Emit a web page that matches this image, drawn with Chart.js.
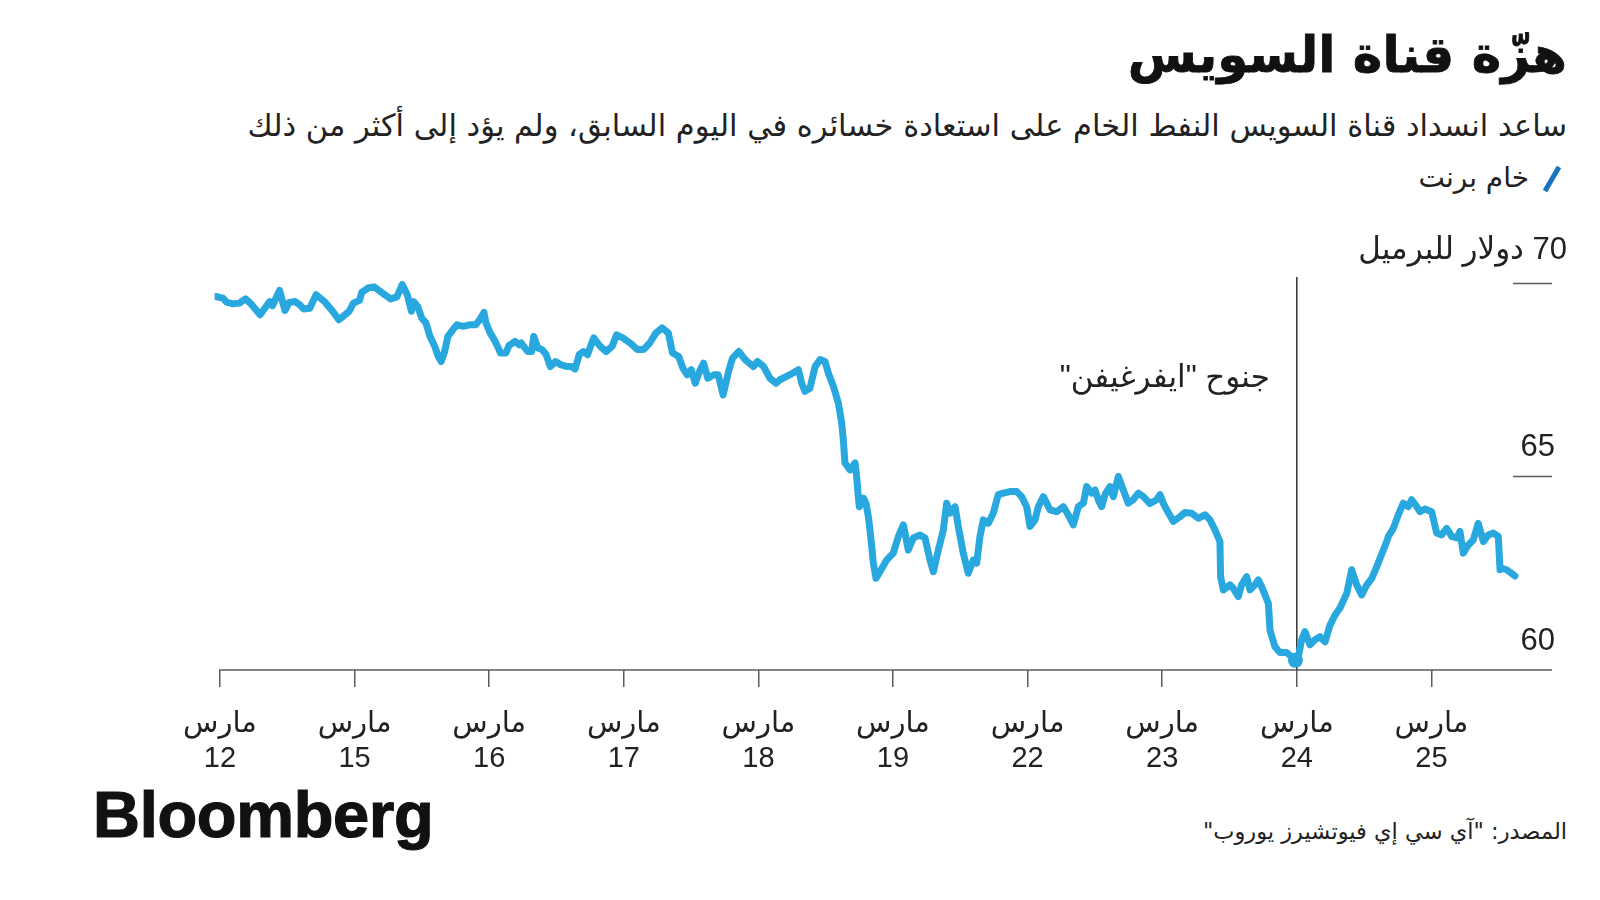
<!DOCTYPE html>
<html lang="ar">
<head>
<meta charset="utf-8">
<script src="https://cdn.jsdelivr.net/npm/chart.js@4.4.1/dist/chart.umd.min.js"></script>
<style>
  html, body { margin:0; padding:0; background:#fff; }
  body { width:1600px; height:900px; position:relative; overflow:hidden; font-family:'DejaVu Sans', sans-serif; color:#1a1a1a; }
  .t { position:absolute; white-space:nowrap; direction:rtl; }
  #title { right:33px; top:23px; font-size:50px; font-weight:bold; line-height:64px; color:#111; -webkit-text-stroke:0.8px #111; }
  #subtitle { right:33px; top:104px; font-size:30.5px; line-height:44px; color:#222; }
  #legend { right:71px; top:157px; font-size:28px; line-height:42px; color:#222; }
  #source { right:33px; top:814px; font-size:22.5px; line-height:34px; color:#222; }
  #logo { position:absolute; left:93px; top:783px; font-family:'Liberation Sans', Arial, sans-serif; font-weight:bold; font-size:65px; line-height:64px; letter-spacing:-0.3px; color:#111; -webkit-text-stroke:1.2px #111; }
  #legendIcon { position:absolute; left:1540px; top:164px; }
  #c { position:absolute; left:0; top:0; }
</style>
</head>
<body>
<div id="title" class="t">هزّة قناة السويس</div>
<div id="subtitle" class="t">ساعد انسداد قناة السويس النفط الخام على استعادة خسائره في اليوم السابق، ولم يؤد إلى أكثر من ذلك</div>
<svg id="legendIcon" width="24" height="30"><line x1="5" y1="27" x2="19" y2="3" stroke="#1a73bd" stroke-width="5"/></svg>
<div id="legend" class="t">خام برنت</div>
<div id="source" class="t">المصدر: "آي سي إي فيوتشيرز يوروب"</div>
<div id="logo">Bloomberg</div>
<canvas id="c" width="1600" height="900"></canvas>
<script>
// ---- data ----
const monthLabel = 'مارس';
const dayLabels = ['12','15','16','17','18','19','22','23','24','25'];
const tickDays = [0,1,2,3,4,5,6,7,8,9];
const yTickValues = [60,65,70];
const yUnit = 'دولار للبرميل';
const seriesName = 'خام برنت';
const eventDay = 8;
const eventLabel = 'جنوح "ايفرغيفن"';
const eventPoint = [{x:7.99, y:60.25}];

const tradingDay = [
-0.032,0.021,0.051,0.098,0.144,0.190,0.236,0.298,0.344,0.369,0.390,0.421,0.443,0.461,0.483,0.514,0.559,0.591,0.621,0.667,
0.714,0.776,0.837,0.883,0.929,0.960,0.991,1.037,1.053,1.099,1.145,1.207,1.268,1.314,1.354,1.391,1.422,1.438,1.468,1.499,
1.530,1.560,1.591,1.622,1.643,1.669,1.693,1.730,1.761,1.807,1.853,1.899,1.930,1.961,1.976,2.007,2.038,2.068,2.084,2.124,
2.146,2.192,2.223,2.238,2.285,2.315,2.331,2.361,2.392,2.423,2.454,2.493,2.531,2.577,2.608,2.638,2.669,2.700,2.731,2.762,
2.777,2.823,2.869,2.915,2.946,2.993,3.054,3.100,3.146,3.193,3.239,3.285,3.331,3.362,3.408,3.439,3.470,3.501,3.531,3.562,
3.593,3.624,3.670,3.701,3.738,3.778,3.808,3.855,3.901,3.963,3.993,4.039,4.086,4.132,
4.160,4.235,4.297,4.322,4.346,4.383,4.421,4.458,4.495,4.520,4.557,4.594,4.619,4.631,4.643,4.681,4.718,4.730,4.742,4.750,
4.780,4.799,4.817,4.829,4.842,4.854,4.874,4.903,4.953,5.002,5.040,5.077,5.114,5.151,5.201,5.238,5.275,5.300,5.337,5.374,
5.399,5.423,5.461,5.485,5.522,5.559,5.597,5.622,5.646,5.671,5.708,5.745,5.782,5.819,5.869,5.919,5.956,5.993,6.018,6.055,
6.080,6.117,6.142,6.166,6.216,6.265,6.302,6.340,6.377,6.414,6.439,6.476,6.501,6.525,6.550,6.575,6.612,6.637,6.674,6.711,
6.748,6.785,6.823,6.860,6.909,
6.959,6.984,7.008,7.033,7.083,7.132,7.169,7.219,7.268,7.318,7.355,7.392,7.429,7.434,7.454,7.504,7.528,7.565,7.590,7.628,
7.652,7.689,7.714,7.739,7.764,7.789,7.801,7.838,7.875,7.925,7.962,7.987,8.011,8.036,8.061,8.098,8.135,8.172,8.210,8.247,
8.284,8.321,8.371,8.408,8.445,8.482,8.520,8.557,8.594,8.643,8.668,8.680,8.717,8.754,8.791,8.828,8.853,8.891,8.915,8.952,
9.002,9.039,9.076,9.113,9.151,9.188,9.212,9.237,9.274,9.311,9.348,9.386,9.423,9.460,9.497,9.510,9.522,9.559,9.621
];
const brentPrice = [
69.65,69.61,69.50,69.46,69.48,69.59,69.44,69.18,69.40,69.52,69.41,69.65,69.81,69.57,69.29,69.50,69.52,69.44,69.33,69.35,
69.70,69.52,69.27,69.05,69.18,69.27,69.48,69.55,69.76,69.87,69.90,69.74,69.59,69.64,69.96,69.70,69.27,69.52,69.40,69.09,
68.97,68.62,68.40,68.10,67.97,68.23,68.62,68.79,68.92,68.88,68.92,68.92,69.05,69.24,68.97,68.71,68.53,68.32,68.19,68.19,
68.38,68.49,68.40,68.45,68.23,68.23,68.62,68.32,68.28,68.15,67.84,67.97,67.89,67.84,67.84,67.78,68.15,68.23,68.15,68.45,
68.58,68.37,68.23,68.37,68.66,68.58,68.43,68.28,68.28,68.45,68.71,68.84,68.71,68.19,68.10,67.80,67.63,67.76,67.41,67.71,
67.93,67.54,67.63,67.63,67.11,67.71,68.06,68.23,68.02,67.84,67.97,67.84,67.54,67.41,
67.50,67.63,67.76,67.41,67.20,67.28,67.84,68.02,67.97,67.67,67.33,66.90,66.38,65.95,65.35,65.17,65.35,65.00,64.48,64.22,
64.44,64.31,63.96,63.62,63.19,62.76,62.37,62.54,62.84,63.02,63.45,63.75,63.10,63.41,63.49,63.41,62.84,62.54,63.10,63.62,
64.31,64.05,64.22,63.71,63.02,62.50,62.84,62.76,63.45,63.88,63.79,64.05,64.53,64.57,64.61,64.61,64.48,64.22,63.71,63.88,
64.22,64.48,64.31,64.14,64.09,64.22,64.01,63.75,64.22,64.31,64.74,64.57,64.65,64.40,64.22,64.53,64.74,64.48,65.00,64.65,
64.31,64.40,64.57,64.48,64.30,
64.40,64.53,64.31,64.14,63.84,63.96,64.07,64.05,63.92,64.01,63.88,63.62,63.32,62.41,62.07,62.20,62.11,61.90,62.20,62.41,
62.07,62.20,62.33,62.15,61.94,61.72,61.03,60.60,60.45,60.45,60.34,60.21,60.34,60.78,60.99,60.65,60.78,60.86,60.73,61.16,
61.42,61.60,61.98,62.59,62.20,61.94,62.20,62.37,62.67,63.10,63.32,63.45,63.66,64.01,64.31,64.22,64.40,64.22,64.09,64.16,
64.09,63.54,63.49,63.66,63.45,63.41,63.58,63.02,63.23,63.36,63.79,63.32,63.49,63.54,63.45,62.59,62.63,62.59,62.43
];

// ---- styling ----
const LINE = '#29a8e0';
const FONT_LATIN = "'Liberation Sans', 'DejaVu Sans', sans-serif";

const decor = {
  id: 'decor',
  beforeDatasetsDraw(chart) {
    const {ctx, chartArea: a, scales: {x, y}} = chart;
    ctx.save();
    ctx.strokeStyle = '#5c5c5c';
    ctx.lineWidth = 1.5;
    ctx.beginPath();
    ctx.moveTo(x.getPixelForValue(tickDays[0]) - 0.75, a.bottom);
    ctx.lineTo(a.right, a.bottom);
    ctx.stroke();
    yTickValues.slice(1).forEach(v => {
      const py = Math.round(y.getPixelForValue(v)) + 0.5;
      ctx.beginPath();
      ctx.moveTo(a.right - 39, py);
      ctx.lineTo(a.right, py);
      ctx.stroke();
    });
    const px = x.getPixelForValue(eventDay);
    ctx.strokeStyle = '#333';
    ctx.lineWidth = 1.5;
    ctx.beginPath();
    ctx.moveTo(px, a.top);
    ctx.lineTo(px, a.bottom);
    ctx.stroke();
    ctx.restore();
  },
  afterDatasetsDraw(chart) {
    const {ctx, chartArea: a, scales: {x, y}} = chart;
    ctx.save();
    ctx.fillStyle = '#222';
    ctx.textBaseline = 'alphabetic';
    ctx.font = '31px ' + FONT_LATIN;
    ctx.textAlign = 'right';
    yTickValues.forEach((v, i) => {
      const py = y.getPixelForValue(v);
      if (i === yTickValues.length - 1) {
        ctx.direction = 'rtl';
        ctx.fillText(v + ' ' + yUnit, a.right + 15, py - 24);
        ctx.direction = 'ltr';
      } else {
        ctx.fillText(String(v), a.right + 3, py - 20);
      }
    });
    ctx.direction = 'rtl';
    ctx.font = '31px ' + FONT_LATIN;
    ctx.textBaseline = 'middle';
    ctx.fillText(eventLabel, x.getPixelForValue(eventDay) - 27, 378);
    ctx.restore();
  }
};

new Chart(document.getElementById('c'), {
  type: 'line',
  data: {
    datasets: [
      {
        label: seriesName,
        data: tradingDay.map((d, i) => ({x: d, y: brentPrice[i]})),
        borderColor: LINE,
        borderWidth: 7,
        borderJoinStyle: 'round',
        borderCapStyle: 'round',
        pointRadius: 0,
        tension: 0,
        fill: false
      },
      {
        label: 'event',
        data: eventPoint,
        pointRadius: 7.5,
        pointBackgroundColor: LINE,
        pointBorderWidth: 0,
        showLine: false
      }
    ]
  },
  options: {
    responsive: false,
    animation: false,
    events: [],
    layout: { padding: { left: 214.6, right: 48, top: 277, bottom: 130 } },
    plugins: { legend: { display: false }, tooltip: { enabled: false } },
    scales: {
      x: {
        type: 'linear',
        min: -0.04,
        max: 9.896,
        afterBuildTicks: s => { s.ticks = tickDays.map(v => ({value: v})); },
        afterFit: s => { s.height = 100; },
        border: { display: false },
        grid: { drawOnChartArea: false, drawTicks: true, tickLength: 17, color: '#5c5c5c', lineWidth: 1.5 },
        ticks: {
          autoSkip: false,
          maxRotation: 0,
          padding: 19,
          color: '#222',
          font: { size: 29, family: FONT_LATIN, lineHeight: 1.22 },
          callback: (v, i) => [monthLabel, dayLabels[i]]
        }
      },
      y: { display: false, min: 60, max: 70.155 }
    }
  },
  plugins: [decor]
});
</script>
</body>
</html>
